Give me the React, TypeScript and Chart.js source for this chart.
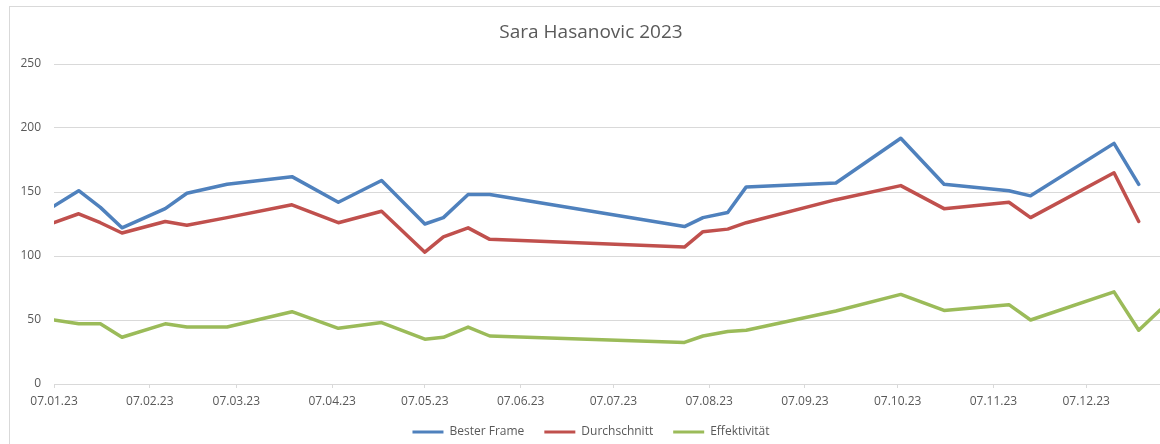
import React, { useEffect, useRef } from "react";
import { Chart, registerables } from "chart.js";

Chart.register(...registerables);

// ---- data ----
const CHART_TITLE = "Sara Hasanovic 2023";
const AXIS_START = "07.01.23";
const AXIS_END = "07.01.24";
const tickLabels = [
  "07.01.23", "07.02.23", "07.03.23", "07.04.23", "07.05.23", "07.06.23",
  "07.07.23", "07.08.23", "07.09.23", "07.10.23", "07.11.23", "07.12.23",
];
const dates = [
  "07.01.23", "15.01.23", "22.01.23", "29.01.23", "12.02.23", "19.02.23",
  "04.03.23", "25.03.23", "09.04.23", "23.04.23", "07.05.23", "13.05.23",
  "21.05.23", "28.05.23", "30.07.23", "05.08.23", "13.08.23", "19.08.23",
  "17.09.23", "08.10.23", "22.10.23", "12.11.23", "19.11.23", "16.12.23",
  "24.12.23", "31.12.23",
];
const besterFrame = [
  139, 151, 138, 122, 137, 149, 156, 162, 142, 159, 125, 130, 148, 148, 123,
  130, 134, 154, 157, 192, 156, 151, 147, 188, 156, null,
];
const durchschnitt = [
  126, 133, 126, 118, 127, 124, 130, 140, 126, 135, 103, 115, 122, 113, 107,
  119, 121, 126, 144, 155, 137, 142, 130, 165, 127, null,
];
const effektivitaet = [
  50, 47, 47, 36.5, 47, 44.5, 44.5, 56.5, 43.5, 48, 35, 36.5, 44.5, 37.5, 32.5,
  37.5, 41, 42, 57, 70, 57.5, 62, 50, 72, 42, 58,
];
const seriesNames = ["Bester Frame", "Durchschnitt", "Effektivität"];
const seriesColors = ["#4F81BD", "#C0504D", "#9BBB59"];

// ---- helpers ----
const parseDate = (s: string) => {
  const [d, m, y] = s.split(".").map(Number);
  return Date.UTC(2000 + y, m - 1, d);
};
const DAY = 86400000;
const base = parseDate(AXIS_START);
const toDay = (s: string) => Math.round((parseDate(s) - base) / DAY);
const tickValues = tickLabels.map(toDay);
const labelFor = (v: number) => {
  const i = tickValues.indexOf(Math.round(v));
  return i >= 0 ? tickLabels[i] : "";
};

export default function App() {
  const ref = useRef<HTMLCanvasElement | null>(null);

  useEffect(() => {
    if (!ref.current) return;
    Chart.defaults.font.family = "'Open Sans', sans-serif";
    Chart.defaults.color = "#595959";
    const allValues = [besterFrame, durchschnitt, effektivitaet];
    const chart = new Chart(ref.current, {
      type: "line",
      data: {
        datasets: allValues.map((vals, k) => ({
          label: seriesNames[k],
          data: dates.map((d, i) => ({ x: toDay(d), y: vals[i] })),
          borderColor: seriesColors[k],
          backgroundColor: seriesColors[k],
          borderWidth: 3.5,
          pointRadius: 0,
          pointHoverRadius: 0,
          tension: 0,
          borderJoinStyle: "round",
          borderCapStyle: "round",
          spanGaps: false,
        })),
      },
      options: {
        responsive: false,
        animation: false,
        layout: { padding: { left: 0, right: 4, top: 0, bottom: 0 } },
        plugins: {
          title: {
            display: true,
            text: CHART_TITLE,
            color: "#595959",
            font: { size: 19, weight: "normal" },
            padding: { top: 21.6, bottom: 19.6 },
          },
          legend: {
            position: "bottom",
            labels: {
              boxWidth: 31,
              boxHeight: 3,
              padding: 20,
              color: "#595959",
              font: { size: 12 },
              generateLabels: (c: any) =>
                Chart.defaults.plugins.legend.labels
                  .generateLabels(c)
                  .map((it: any) => ({ ...it, fillStyle: it.strokeStyle, lineWidth: 0 })),
            },
          },
          tooltip: { enabled: false },
        },
        scales: {
          x: {
            type: "linear",
            min: 0,
            max: toDay(AXIS_END),
            afterBuildTicks: (scale: any) => {
              scale.ticks = tickValues.map((v) => ({ value: v }));
            },
            afterFit: (scale: any) => {
              scale.height = 22;
            },
            ticks: {
              autoSkip: false,
              maxRotation: 0,
              padding: 6,
              color: "#595959",
              font: { size: 12 },
              callback: (v: any) => labelFor(Number(v)),
            },
            grid: {
              drawOnChartArea: false,
              drawTicks: true,
              tickLength: 4,
              color: "#d9d9d9",
            },
            border: { display: true, color: "#d9d9d9" },
          },
          y: {
            min: 0,
            max: 250,
            afterFit: (scale: any) => {
              scale.width = 54;
            },
            ticks: {
              stepSize: 50,
              padding: 13,
              color: "#595959",
              font: { size: 12 },
            },
            grid: { color: "#d9d9d9", drawTicks: false },
            border: { display: false },
          },
        },
      },
    } as any);
    return () => chart.destroy();
  }, []);

  return (
    <div
      style={{
        position: "fixed",
        left: 0,
        top: 0,
        width: 1160,
        height: 444,
        overflow: "hidden",
        background: "#fff",
      }}
    >
      <div
        style={{
          position: "absolute",
          left: 9,
          top: 6,
          width: 1300,
          height: 600,
          borderLeft: "1px solid #d9d9d9",
          borderTop: "1px solid #d9d9d9",
        }}
      />
      <canvas
        ref={ref}
        width={1186}
        height={448}
        style={{ position: "absolute", left: 0, top: 0 }}
      />
    </div>
  );
}
